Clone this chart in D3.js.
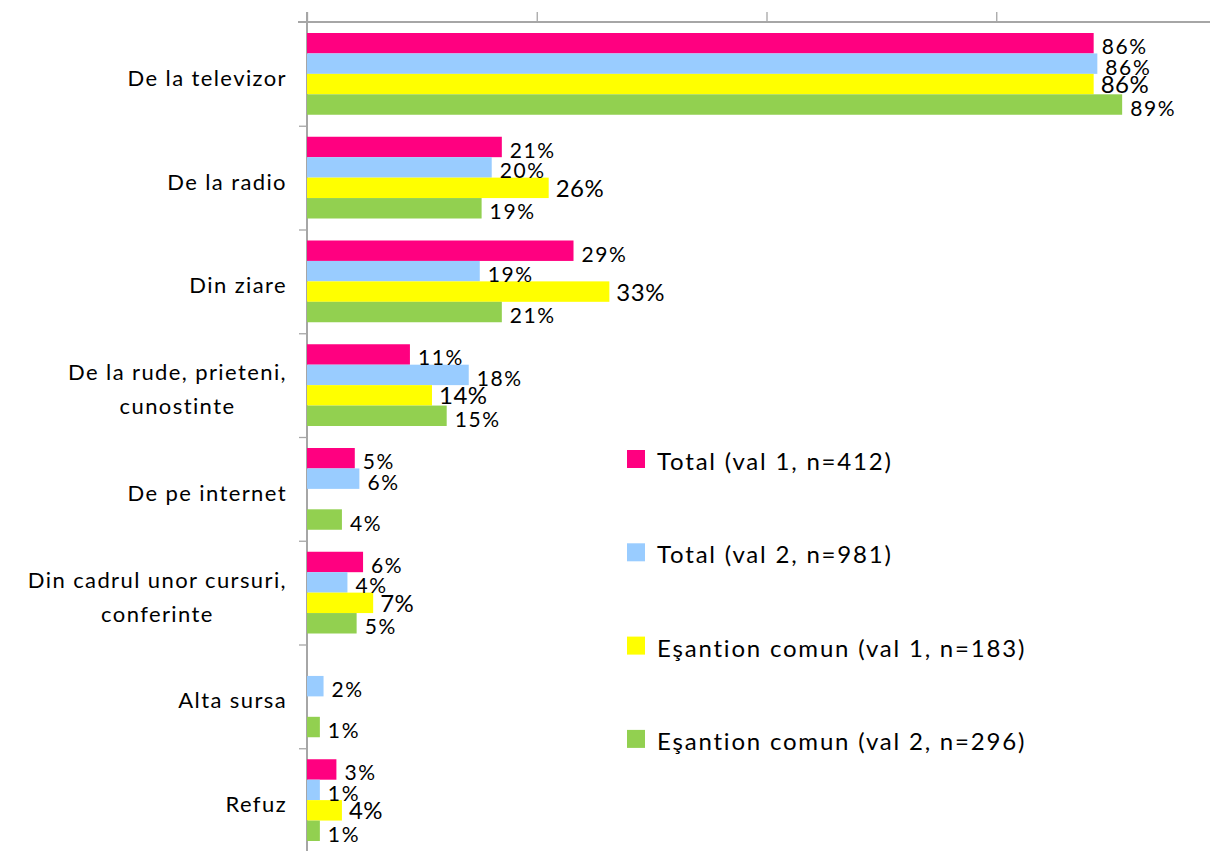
<!DOCTYPE html>
<html>
<head>
<meta charset="utf-8">
<script src="https://cdn.jsdelivr.net/npm/d3@7"></script>
<style>
  body { margin: 0; background: #fff; }
  svg { display: block; font-family: Lato, "Open Sans", sans-serif; }
</style>
</head>
<body>
<div id="chart"></div>
<script>
// categories (top to bottom) and series
var categories = ["De la televizor", "De la radio", "Din ziare", "De la rude, prieteni,\ncunostinte",
                  "De pe internet", "Din cadrul unor cursuri,\nconferinte", "Alta sursa", "Refuz"];
var seriesNames = ["Total (val 1, n=412)", "Total (val 2, n=981)",
                   "Eşantion comun (val 1, n=183)", "Eşantion comun (val 2, n=296)"];
var colors = ["#ff0080", "#99ccff", "#ffff00", "#92d050"];

// percentages per series, same order as categories (null = no bar)
var totalVal1  = [85.6, 21.2, 29.0, 11.2, 5.2, 6.1, null, 3.2];
var totalVal2  = [86.0, 20.1, 18.8, 17.6, 5.7, 4.4, 1.8, 1.4];
var esantVal1  = [85.6, 26.3, 32.9, 13.6, null, 7.2, null, 3.8];
var esantVal2  = [88.7, 19.0, 21.2, 15.2, 3.8, 5.4, 1.4, 1.4];
var seriesValues = [totalVal1, totalVal2, esantVal1, esantVal2];
var axisTicks = [0, 25, 50, 75, 100];

var width = 1210, height = 851;
var x0 = 307, axisY = 22;

var svg = d3.select("#chart").append("svg")
    .attr("width", width).attr("height", height);

var xScale = d3.scaleLinear().domain([0, 100]).range([x0, x0 + 919]);
var yScale = d3.scaleBand().domain(categories).range([axisY, 852]);
var yEdge = d3.scaleLinear().domain([0, categories.length]).range([axisY, 852]);
var ySub = d3.scaleBand().domain(d3.range(seriesNames.length))
    .range([11, yScale.bandwidth() - 11]);

var axisColor = "#a6a6a6";

// top axis
var xAxis = d3.axisTop(xScale).tickValues(axisTicks).tickSize(10).tickSizeOuter(0).tickFormat("");
var gx = svg.append("g").attr("transform", "translate(0," + axisY + ")").call(xAxis);
gx.select(".domain").remove();
gx.selectAll("line").attr("stroke", axisColor).attr("stroke-width", 1.3);
svg.append("line")
    .attr("x1", 298).attr("x2", width).attr("y1", axisY).attr("y2", axisY)
    .attr("stroke", axisColor).attr("stroke-width", 2);

// left axis with ticks between categories
var yAxis = d3.axisLeft(yEdge).tickValues(d3.range(1, categories.length + 1)).tickSize(8).tickFormat("");
var gy = svg.append("g").attr("transform", "translate(" + x0 + ",0)").call(yAxis);
gy.select(".domain").remove();
gy.selectAll("line").attr("stroke", axisColor).attr("stroke-width", 1.3);
svg.append("line")
    .attr("x1", x0).attr("x2", x0).attr("y1", 12).attr("y2", height)
    .attr("stroke", axisColor).attr("stroke-width", 2);

// bars
var rows = [];
categories.forEach(function(c, i) {
    seriesValues.forEach(function(vals, s) {
        if (vals[i] != null) rows.push({cat: c, s: s, v: vals[i]});
    });
});

svg.append("g").selectAll("rect").data(rows).enter().append("rect")
    .attr("x", xScale(0))
    .attr("y", function(d) { return yScale(d.cat) + ySub(d.s); })
    .attr("width", function(d) { return xScale(d.v) - xScale(0); })
    .attr("height", ySub.bandwidth())
    .attr("fill", function(d) { return colors[d.s]; });

// value labels (the yellow series uses a bigger font, like the original)
var fmt = d3.format(".0f");
svg.append("g").selectAll("text").data(rows).enter().append("text")
    .attr("x", function(d) { return xScale(d.v) + (d.s == 2 ? 7 : 8); })
    .attr("y", function(d) { return yScale(d.cat) + ySub(d.s) + ySub.bandwidth() / 2 + (d.s == 2 ? 9 : 11); })
    .attr("font-size", function(d) { return d.s == 2 ? 24 : 21; })
    .attr("letter-spacing", function(d) { return d.s == 2 ? 0.5 : 1.6; })
    .attr("fill", "#000")
    .text(function(d) { return fmt(d.v) + "%"; });

// category labels: block right-aligned, lines centred within the block
var catG = svg.append("g");
categories.forEach(function(c) {
    var lines = c.split("\n");
    var cy = yScale(c) + yScale.bandwidth() / 2;
    var t = catG.append("text").attr("font-size", 22).attr("fill", "#000")
        .attr("letter-spacing", 1.4);
    var spans = lines.map(function(l, k) {
        return t.append("tspan").text(l)
            .attr("y", cy + 12 + (k - (lines.length - 1) / 2) * 34);
    });
    var maxW = d3.max(spans, function(sp) { return sp.node().getComputedTextLength(); });
    var centre = 287 - maxW / 2;
    spans.forEach(function(sp) { sp.attr("x", centre).attr("text-anchor", "middle"); });
});

// legend
var legend = svg.append("g").selectAll("g").data(seriesNames).enter().append("g")
    .attr("transform", function(d, i) { return "translate(627," + (459 + i * 93.3) + ")"; });
legend.append("rect").attr("x", 0).attr("y", -9).attr("width", 18).attr("height", 18)
    .attr("fill", function(d, i) { return colors[i]; });
legend.append("text").attr("x", 30).attr("y", 11)
    .attr("font-size", 24).attr("letter-spacing", 1.8).attr("fill", "#000")
    .text(function(d) { return d; });
</script>
</body>
</html>
